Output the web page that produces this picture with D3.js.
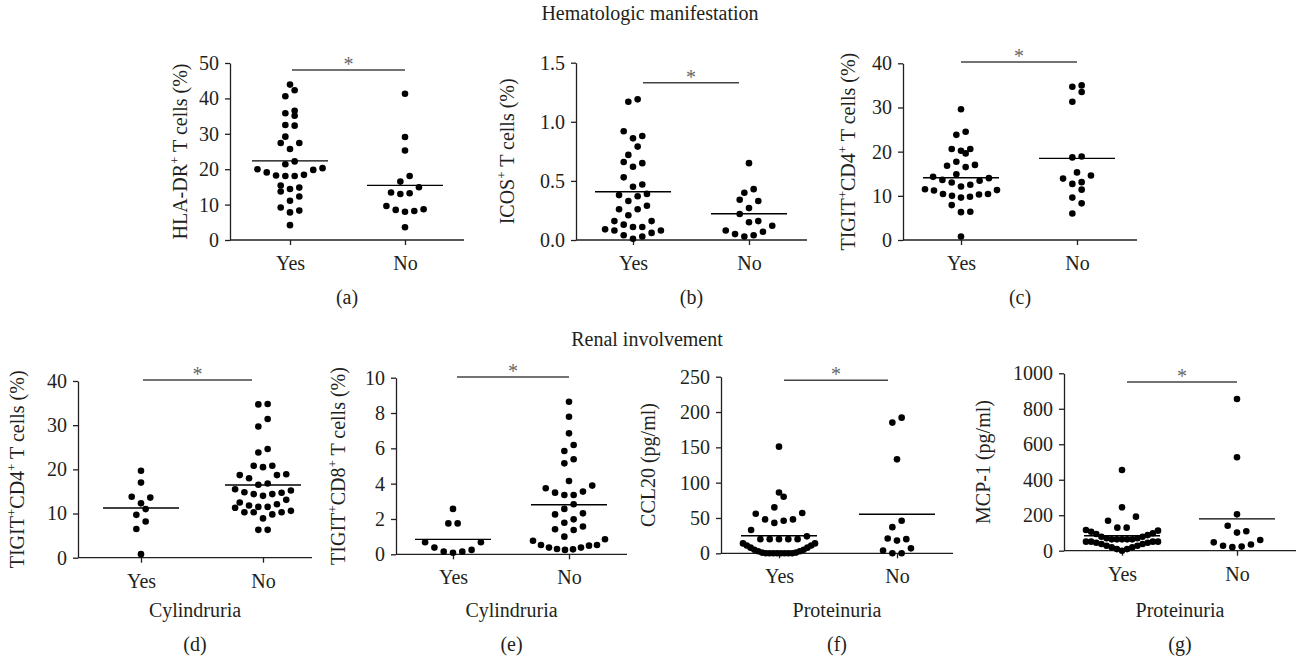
<!DOCTYPE html>
<html>
<head>
<meta charset="utf-8">
<script src="https://cdn.jsdelivr.net/npm/d3@7"></script>
<style>
  body { margin: 0; background: #fff; }
  svg text { font-family: "Liberation Serif", "Times New Roman", serif; fill: #231f20; }
</style>
</head>
<body>
<svg id="chart" width="1300" height="659"></svg>
<script>
// ---- data ----
const groups = ["Yes", "No"];

const hlaYes = [43.9, 42.3, 40.6, 36.5, 35.8, 35.1, 32.5, 32.3, 29.2, 27.4, 27.4, 25.7, 22.2, 21.4, 20.3, 20.0, 19.8, 19.1, 18.4, 18.2, 18.1, 18.1, 15.4, 14.8, 14.4, 13.7, 12.3, 11.1, 9.2, 8.3, 7.8, 4.2];
const hlaNo = [41.3, 29.1, 25.3, 18.1, 16.5, 14.9, 13.4, 13.2, 13.0, 9.6, 8.7, 8.5, 8.2, 8.0, 3.6];

const icosYes = [1.19, 1.17, 0.92, 0.88, 0.86, 0.79, 0.72, 0.66, 0.65, 0.62, 0.53, 0.47, 0.45, 0.39, 0.38, 0.37, 0.33, 0.29, 0.26, 0.26, 0.21, 0.16, 0.16, 0.13, 0.11, 0.11, 0.09, 0.08, 0.08, 0.06, 0.04, 0.03, 0.01];
const icosNo = [0.65, 0.43, 0.40, 0.34, 0.33, 0.27, 0.22, 0.16, 0.15, 0.12, 0.08, 0.07, 0.05, 0.04, 0.03];

const cd4HemYes = [29.6, 24.5, 23.8, 20.6, 20.6, 20.2, 19.6, 17.7, 17.0, 16.8, 16.5, 14.9, 14.3, 14.0, 13.6, 13.4, 13.0, 12.5, 12.1, 11.5, 11.3, 11.2, 10.4, 10.4, 10.3, 10.0, 9.8, 9.6, 7.9, 6.4, 6.3, 0.8];
const cd4HemNo = [35.0, 34.7, 33.5, 31.3, 18.9, 18.7, 15.3, 14.6, 13.9, 13.1, 12.7, 11.4, 9.6, 8.3, 6.0];

const cd4CylYes = [19.7, 17.0, 13.8, 13.6, 12.3, 11.0, 9.7, 8.2, 6.5, 0.8];
const cd4CylNo = [34.8, 34.7, 31.4, 29.7, 24.6, 23.8, 20.8, 20.8, 20.5, 18.9, 18.7, 18.7, 18.0, 16.8, 16.5, 15.5, 15.2, 14.8, 14.7, 14.4, 14.4, 14.0, 13.1, 12.5, 12.1, 11.8, 11.5, 11.5, 11.3, 10.6, 10.3, 10.3, 10.3, 9.8, 8.9, 6.3, 6.3];

const cd8CylYes = [2.57, 1.75, 1.75, 0.68, 0.68, 0.38, 0.25, 0.15, 0.15, 0.09];
const cd8CylNo = [8.64, 7.79, 6.85, 6.19, 5.85, 5.38, 5.15, 4.15, 3.89, 3.74, 3.55, 3.49, 3.36, 3.36, 2.83, 2.57, 2.32, 2.26, 1.98, 1.79, 1.57, 1.42, 1.38, 1.00, 0.85, 0.77, 0.53, 0.53, 0.49, 0.38, 0.38, 0.30, 0.28, 0.25];

const ccl20Yes = [151, 86, 80, 65, 57, 56, 48, 48, 46, 43, 33, 24, 20, 20, 20, 20, 20, 14, 14, 11, 11, 8, 8, 5, 5, 3, 3, 1, 1, 0, 0, 0, 0, 0, 0, 0, 0];
const ccl20No = [192, 185, 133, 46, 37, 21, 20, 18, 7, 4, 0, 0];

const mcpYes = [455, 245, 192, 169, 130, 130, 117, 113, 107, 98, 94, 88, 79, 79, 70, 70, 64, 64, 64, 64, 64, 51, 51, 51, 51, 45, 45, 38, 38, 28, 28, 19, 19, 9, 9, 0];
const mcpNo = [855, 527, 205, 141, 110, 102, 60, 47, 35, 28, 23, 20];

const ticksA = [0, 10, 20, 30, 40, 50];
const ticksB = [0, 0.5, 1.0, 1.5];
const ticksC = [0, 10, 20, 30, 40];
const ticksD = [0, 10, 20, 30, 40];
const ticksE = [0, 2, 4, 6, 8, 10];
const ticksF = [0, 50, 100, 150, 200, 250];
const ticksG = [0, 200, 400, 600, 800, 1000];

// "^" toggles superscript
const yLabels = ["HLA-DR^+^ T cells (%)", "ICOS^+^ T cells (%)", "TIGIT^+^CD4^+^ T cells (%)",
                 "TIGIT^+^CD4^+^ T cells (%)", "TIGIT^+^CD8^+^ T cells (%)", "CCL20 (pg/ml)", "MCP-1 (pg/ml)"];
const xTitles = [null, null, null, "Cylindruria", "Cylindruria", "Proteinuria", "Proteinuria"];
const subLabels = ["(a)", "(b)", "(c)", "(d)", "(e)", "(f)", "(g)"];
const sigMarks = ["*", "*", "*", "*", "*", "*", "*"];
const sectionTitles = ["Hematologic manifestation", "Renal involvement"];

const panels = [
    {yes: hlaYes, no: hlaNo, ticks: ticksA, fmt: d3.format("d")},
    {yes: icosYes, no: icosNo, ticks: ticksB, fmt: d3.format(".1f")},
    {yes: cd4HemYes, no: cd4HemNo, ticks: ticksC, fmt: d3.format("d")},
    {yes: cd4CylYes, no: cd4CylNo, ticks: ticksD, fmt: d3.format("d")},
    {yes: cd8CylYes, no: cd8CylNo, ticks: ticksE, fmt: d3.format("d")},
    {yes: ccl20Yes, no: ccl20No, ticks: ticksF, fmt: d3.format("d")},
    {yes: mcpYes, no: mcpNo, ticks: ticksG, fmt: d3.format("d")}
];

// ---- layout (pixels) ----
const layout = [
    {x0: 230, x1: 464, yesX: 290, noX: 405, yTop: 63, yBot: 240, labelX: 180, bar: [292, 405], barV: 48, subY: 304},
    {x0: 576, x1: 807, yesX: 633, noX: 749, yTop: 62.7, yBot: 240, labelX: 507, bar: [643, 739], barV: 1.33, subY: 304},
    {x0: 903, x1: 1137, yesX: 961, noX: 1077, yTop: 63.3, yBot: 240, labelX: 848, bar: [961, 1077], barV: 40.3, subY: 304},
    {x0: 78, x1: 312, yesX: 141, noX: 263, yTop: 381, yBot: 557.7, labelX: 17, bar: [143, 252], barV: 40.2, subY: 651},
    {x0: 396, x1: 627, yesX: 453, noX: 569, yTop: 377.7, yBot: 554.3, labelX: 338, bar: [457, 569], barV: 10.04, subY: 651},
    {x0: 721, x1: 953, yesX: 779, noX: 897, yTop: 376.7, yBot: 553.3, labelX: 648, bar: [784, 888], barV: 245, subY: 651},
    {x0: 1064, x1: 1296, yesX: 1122, noX: 1237, yTop: 373.3, yBot: 550.7, labelX: 983, bar: [1127, 1237], barV: 951, subY: 651}
];

const FONT = '"Liberation Serif", "Times New Roman", serif';
const INK = "#231f20";
const FS = 20;
const dotR = 3.3;
const meanHalf = 38;

const svg = d3.select("#chart");

//Prism-like scatter: values grouped into rows, spread center-out inside each row.
function swarm(values, y, rowH, step, maxW) {
    let sorted = values.slice().sort(d3.ascending);
    let rows = [];
    let cur = null;
    sorted.forEach(v => {
        if (!cur || y(cur[0]) - y(v) > rowH) {
            cur = [v];
            rows.push(cur);
        } else {
            cur.push(v);
        }
    });
    let out = [];
    rows.forEach(r => {
        let n = r.length;
        let s = n > 1 ? Math.min(step, maxW / (n - 1)) : 0;
        let slots = d3.range(n).map(k => (k - (n - 1) / 2) * s);
        let sign = n % 2 ? 1 : -1;
        slots.sort((p, q) => (Math.abs(p) - Math.abs(q)) || sign * (q - p));
        r.forEach((v, i) => out.push({v: v, dx: slots[i]}));
    });
    return out;
}

function addLabel(sel, str) {
    let parts = str.split("^");
    parts.forEach((p, i) => {
        if (i % 2 === 1) {
            sel.append("tspan").attr("font-size", 13).attr("dy", -8).text(p);
        } else {
            let t = sel.append("tspan").text(p);
            if (i > 0) t.attr("dy", 8);
        }
    });
}

panels.forEach((p, i) => {
    let L = layout[i];
    let g = svg.append("g");

    let y = d3.scaleLinear().domain([0, d3.max(p.ticks)]).range([L.yBot, L.yTop]);
    let x = d3.scalePoint().domain(groups).range([L.yesX, L.noX]);

    //y axis
    let ya = g.append("g")
        .attr("transform", "translate(" + L.x0 + ",0)")
        .call(d3.axisLeft(y).tickValues(p.ticks).tickFormat(p.fmt).tickSize(5).tickSizeOuter(0).tickPadding(6));
    ya.attr("font-family", FONT).attr("font-size", FS);
    ya.selectAll("path, line").attr("stroke", INK).attr("stroke-width", 1.3);
    ya.selectAll("text").attr("fill", INK);

    //x axis
    let xa = g.append("g")
        .attr("transform", "translate(0," + L.yBot + ")")
        .call(d3.axisBottom(x).tickSize(5).tickSizeOuter(0).tickPadding(11));
    xa.select(".domain").remove();
    xa.attr("font-family", FONT).attr("font-size", FS);
    xa.selectAll("line").attr("stroke", INK).attr("stroke-width", 1.3);
    xa.selectAll("text").attr("fill", INK);
    g.append("line")
        .attr("x1", L.x0).attr("x2", L.x1)
        .attr("y1", L.yBot).attr("y2", L.yBot)
        .attr("stroke", INK).attr("stroke-width", 1.3);

    //dots and mean lines
    [[groups[0], p.yes], [groups[1], p.no]].forEach(([grp, vals]) => {
        let pts = swarm(vals, y, 11, 9.3, 72);
        g.append("g").selectAll("circle")
            .data(pts)
            .enter().append("circle")
            .attr("cx", d => x(grp) + d.dx)
            .attr("cy", d => y(d.v))
            .attr("r", dotR)
            .attr("fill", "#000");
        let m = d3.mean(vals);
        g.append("line")
            .attr("x1", x(grp) - meanHalf).attr("x2", x(grp) + meanHalf)
            .attr("y1", y(m)).attr("y2", y(m))
            .attr("stroke", "#000").attr("stroke-width", 1.4);
    });

    //significance bar
    g.append("line")
        .attr("x1", L.bar[0]).attr("x2", L.bar[1])
        .attr("y1", y(L.barV)).attr("y2", y(L.barV))
        .attr("stroke", "#444").attr("stroke-width", 1.5);
    g.append("text")
        .attr("x", (L.bar[0] + L.bar[1]) / 2)
        .attr("y", y(L.barV) + 1)
        .attr("text-anchor", "middle")
        .attr("font-size", FS)
        .style("fill", "#666")
        .text(sigMarks[i]);

    //y label
    let yl = g.append("text")
        .attr("text-anchor", "middle")
        .attr("font-size", FS)
        .attr("transform", "translate(" + L.labelX + "," + ((L.yTop + L.yBot) / 2) + ")rotate(-90)")
        .attr("dy", "0.35em");
    addLabel(yl, yLabels[i]);

    //x title and panel letter
    let cx = (L.x0 + L.x1) / 2;
    if (xTitles[i]) {
        g.append("text").attr("x", cx).attr("y", 617)
            .attr("text-anchor", "middle").attr("font-size", FS).text(xTitles[i]);
    }
    g.append("text").attr("x", cx).attr("y", L.subY)
        .attr("text-anchor", "middle").attr("font-size", FS).text(subLabels[i]);
});

svg.append("text").attr("x", 650).attr("y", 20).attr("text-anchor", "middle")
    .attr("font-size", FS).text(sectionTitles[0]);
svg.append("text").attr("x", 647).attr("y", 346).attr("text-anchor", "middle")
    .attr("font-size", FS).text(sectionTitles[1]);
</script>
</body>
</html>
